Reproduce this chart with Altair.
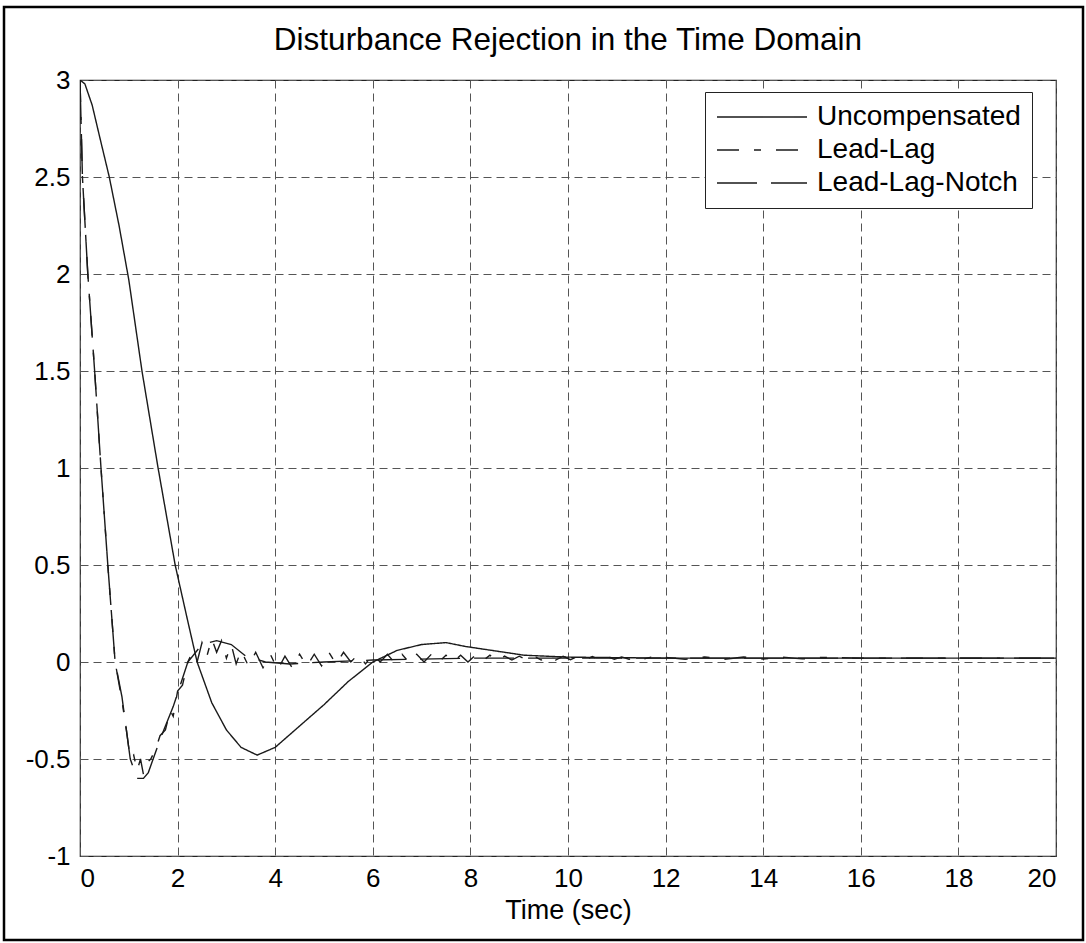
import altair as alt
import pandas as pd

# ---------------- data ----------------
t_unc = [0, 0.1, 0.25, 0.4, 0.6, 0.8, 1.0, 1.27, 1.6, 1.95, 2.2, 2.4, 2.7, 3.0,
         3.3, 3.63, 4.0, 4.5, 5.0, 5.5, 6.0, 6.5, 7.0, 7.5, 7.9, 8.7, 9.1, 10,
         12, 14, 16, 18, 20]
y_unc = [3.0, 2.98, 2.87, 2.71, 2.5, 2.25, 1.97, 1.5, 1.0, 0.5, 0.22, 0.0, -0.21,
         -0.35, -0.44, -0.48, -0.44, -0.33, -0.22, -0.10, 0.0, 0.06, 0.09, 0.10,
         0.08, 0.05, 0.035, 0.025, 0.02, 0.02, 0.02, 0.02, 0.02]

t_ll = [0, 0.05, 0.16, 0.3, 0.43, 0.57, 0.72, 0.86, 0.95, 1.03, 1.1, 1.17, 1.24,
        1.3, 1.37, 1.45, 1.55, 1.64, 1.75, 1.85, 1.91, 2.0, 2.1, 2.21, 2.3, 2.4,
        2.5, 2.6, 2.7, 2.8, 2.9, 3.0, 3.1, 3.2, 3.3, 3.45, 3.6, 3.75, 3.9, 4.05,
        4.2, 4.35, 4.5, 4.65, 4.8, 4.95, 5.1, 5.25, 5.4, 5.55, 5.7, 5.85, 6.0,
        6.15, 6.3, 6.45, 6.6, 6.75, 6.9, 7.05, 7.2, 7.35, 7.5, 7.65, 7.8, 7.95,
        8.1, 8.25, 8.4, 8.55, 8.7, 8.85, 9.0, 9.15, 9.3, 9.45, 9.6, 9.75, 9.9,
        10.05, 10.2, 10.35, 10.5, 10.65, 10.8, 10.95, 11.1, 11.25, 11.4, 11.55,
        11.7, 11.85, 12.0, 12.4, 12.8, 13.2, 13.6, 14.0, 14.4, 14.8, 15.2, 16, 20]
y_ll = [3.0, 2.5, 2.0, 1.5, 1.0, 0.5, 0.0, -0.2, -0.35, -0.5, -0.48, -0.56, -0.5,
        -0.58, -0.52, -0.5, -0.45, -0.38, -0.35, -0.25, -0.28, -0.15, -0.12, 0.0,
        0.05, 0.0, 0.1, 0.03, 0.12, 0.05, 0.11, 0.02, 0.09, -0.01, 0.06, -0.02,
        0.05, -0.03, 0.04, -0.04, 0.03, -0.03, 0.04, -0.02, 0.04, -0.02, 0.05,
        -0.01, 0.05, 0.0, 0.04, -0.01, 0.04, 0.0, 0.04, -0.005, 0.04, -0.005, 0.04,
        0.0, 0.04, 0.0, 0.035, 0.0, 0.035, 0.0, 0.035, 0.005, 0.035, 0.005,
        0.03, 0.01, 0.03, 0.01, 0.03, 0.01, 0.03, 0.01, 0.03, 0.012, 0.028, 0.012,
        0.028, 0.012, 0.028, 0.014, 0.026, 0.014, 0.026, 0.015, 0.025, 0.016,
        0.024, 0.014, 0.026, 0.014, 0.026, 0.015, 0.025, 0.016, 0.024, 0.02, 0.02]

t_lln = [0, 0.05, 0.16, 0.3, 0.43, 0.57, 0.72, 0.86, 1.03, 1.17, 1.3, 1.4, 1.64,
         1.91, 2.21, 2.5, 2.8, 3.1, 3.4, 3.8, 4.3, 5.0, 6.0, 8.0, 10, 12, 20]
y_lln = [3.0, 2.5, 2.0, 1.5, 1.0, 0.5, 0.0, -0.18, -0.5, -0.6, -0.6, -0.57,
         -0.40, -0.23, 0.0, 0.09, 0.11, 0.09, 0.03, 0.0, -0.01, 0.0, 0.01, 0.02,
         0.02, 0.02, 0.02]

series_names = ["Uncompensated", "Lead-Lag", "Lead-Lag-Notch"]
x_ticks = [0, 2, 4, 6, 8, 10, 12, 14, 16, 18, 20]
y_ticks = [-1, -0.5, 0, 0.5, 1, 1.5, 2, 2.5, 3]

rows = []
for name, ts, ys in zip(series_names, [t_unc, t_ll, t_lln], [y_unc, y_ll, y_lln]):
    for t, y in zip(ts, ys):
        rows.append({"t": t, "y": y, "series": name})
df = pd.DataFrame(rows)

FONT = "Liberation Sans"

lines = alt.Chart(df).mark_line(color="#1a1a1a", strokeWidth=1.4, clip=True).encode(
    x=alt.X("t:Q", scale=alt.Scale(domain=[0, 20], nice=False),
            axis=alt.Axis(values=x_ticks, title="Time (sec)", labelExpr="'' + datum.value")),
    y=alt.Y("y:Q", scale=alt.Scale(domain=[-1, 3], nice=False),
            axis=alt.Axis(values=y_ticks, title=None, labelExpr="'' + datum.value")),
    strokeDash=alt.StrokeDash(
        "series:N",
        scale=alt.Scale(domain=series_names,
                        range=[[1, 0], [22, 15, 7, 15], [40, 14]]),
        legend=alt.Legend(
            title=None, orient="none", legendX=625, legendY=12,
            symbolType="stroke", symbolSize=8100, symbolStrokeWidth=1.3,
            symbolStrokeColor="#1a1a1a", clipHeight=28, rowPadding=5,
            labelOffset=9, labelFontSize=28, labelFont=FONT, labelColor="black",
            padding=11, strokeColor="#222", fillColor="white", labelLimit=400,
        ),
    ),
    detail="series:N",
)

# decorative figure frame around the whole picture
frame = alt.Chart(pd.DataFrame({"k": [0]})).mark_rect(
    filled=False, stroke="black", strokeWidth=2.5, clip=False
).encode(
    x=alt.value(-76), x2=alt.value(1003), y=alt.value(-73), y2=alt.value(860)
)

chart = alt.layer(lines, frame).properties(
    width=976, height=776,
    title=alt.TitleParams("Disturbance Rejection in the Time Domain", fontSize=31.5,
                          font=FONT, fontWeight="normal", color="black",
                          anchor="middle", offset=-76, baseline="alphabetic"),
    autosize=alt.AutoSizeParams(type="none"),
    padding={"left": 80, "top": 80, "right": 30, "bottom": 87},
).configure_view(
    stroke="#222", strokeWidth=1.2
).configure_axis(
    grid=True, gridColor="#555", gridDash=[8, 5], gridWidth=1, gridOpacity=1,
    domain=False, ticks=False, labelFont=FONT, labelFontSize=26,
    labelColor="black", titleFont=FONT, titleFontSize=27, titleColor="black",
    titleFontWeight="normal",
).configure_axisX(
    labelPadding=9, titlePadding=6
).configure_axisY(
    labelPadding=10
)

chart.save("out.html", embed_options={"renderer": "svg", "actions": False})
